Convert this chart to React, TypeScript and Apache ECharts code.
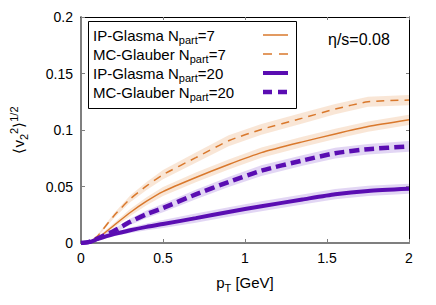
import React, { useEffect, useRef } from 'react';
import * as echarts from 'echarts';

// transverse momentum grid (GeV)
const pT = [0, 0.05, 0.1, 0.2, 0.3, 0.4, 0.5, 0.7, 0.9, 1.1, 1.35, 1.55, 1.75, 2.0];

// <v2^2>^{1/2} values
const ipGlasma7 = [0, 0.0005, 0.004, 0.0155, 0.027, 0.037, 0.0455, 0.058, 0.0695, 0.08, 0.0895, 0.0965, 0.103, 0.109];
const mcGlauber7 = [0, 0.001, 0.006, 0.024, 0.039, 0.0505, 0.0605, 0.0755, 0.0905, 0.1005, 0.1105, 0.1185, 0.125, 0.1265];
const ipGlasma20 = [0, 0.0008, 0.0034, 0.0078, 0.0113, 0.0143, 0.0168, 0.022, 0.0275, 0.0325, 0.0385, 0.0432, 0.0461, 0.048];
const mcGlauber20 = [0, 0.001, 0.004, 0.0107, 0.0187, 0.0255, 0.031, 0.043, 0.054, 0.064, 0.073, 0.0795, 0.083, 0.0855];

// statistical uncertainty half-widths
const ipGlasma7Err = [0, 0.0004, 0.001, 0.002, 0.003, 0.0035, 0.004, 0.0043, 0.0045, 0.0045, 0.0045, 0.0045, 0.0045, 0.0045];
const mcGlauber7Err = [0, 0.0004, 0.001, 0.002, 0.003, 0.0035, 0.004, 0.0045, 0.0048, 0.0048, 0.0047, 0.0046, 0.0045, 0.0045];
const ipGlasma20Err = [0, 0.0004, 0.001, 0.0018, 0.0025, 0.003, 0.0035, 0.004, 0.0042, 0.0044, 0.0045, 0.0045, 0.0045, 0.0045];
const mcGlauber20Err = [0, 0.0004, 0.001, 0.002, 0.0028, 0.0033, 0.0038, 0.0042, 0.0045, 0.0047, 0.0047, 0.0047, 0.0047, 0.0047];

// axis ticks
const xTickLabels = ['0', '0.5', '1', '1.5', '2'];
const yTickLabels = ['0', '0.05', '0.1', '0.15', '0.2'];

const legendNames = ['IP-Glasma N_part=7', 'MC-Glauber N_part=7', 'IP-Glasma N_part=20', 'MC-Glauber N_part=20'];
const legendRich = [
  '{m|IP-Glasma N}{sub|part}{m|=7}',
  '{m|MC-Glauber N}{sub|part}{m|=7}',
  '{m|IP-Glasma N}{sub|part}{m|=20}',
  '{m|MC-Glauber N}{sub|part}{m|=20}',
];

const FONT = '"Liberation Sans", Arial, Helvetica, sans-serif';
const ORANGE = '#d9782c';
const PURPLE = '#5a0db2';
const ORANGE_BAND = 'rgba(232,150,85,0.24)';
const PURPLE_BAND = 'rgba(140,90,210,0.25)';

const rich = {
  m: { fontSize: 15, fontFamily: FONT, verticalAlign: 'top', padding: [4, 0, 0, 0], color: '#000', fill: '#000' },
  sub: { fontSize: 11, fontFamily: FONT, verticalAlign: 'top', padding: [11, 0, 0, 0], color: '#000', fill: '#000' },
  sup: { fontSize: 11, fontFamily: FONT, verticalAlign: 'top', padding: [1, 0, 0, 0], color: '#000', fill: '#000' },
};

function bandSeries(id: string, vals: number[], errs: number[], color: string) {
  return {
    type: 'custom',
    name: id,
    coordinateSystem: 'cartesian2d',
    xAxisIndex: 0,
    yAxisIndex: 0,
    data: [[0, 0]],
    silent: true,
    z: 1,
    renderItem: (_params: any, api: any) => {
      const upper = pT.map((x, i) => api.coord([x, vals[i] + errs[i]]));
      const lower = pT.map((x, i) => api.coord([x, Math.max(0, vals[i] - errs[i])])).reverse();
      return {
        type: 'polygon',
        shape: { points: upper.concat(lower) },
        style: { fill: color, stroke: 'none' },
      };
    },
  };
}

function lineSeries(name: string, vals: number[], color: string, width: number, dash: any) {
  return {
    type: 'line',
    name,
    data: pT.map((x, i) => [x, vals[i]]),
    symbol: 'none',
    smooth: 0.2,
    lineStyle: { color, width, type: dash, cap: 'butt' },
    z: 3,
  };
}

export default function App() {
  const ref = useRef<HTMLDivElement>(null);
  useEffect(() => {
    const chart = echarts.init(ref.current!, null, { renderer: 'svg' });
    const legendX = 93;
    const rowY = [35, 54, 73, 92];
    const legendLines = [
      { color: ORANGE, width: 1.5, dash: null },
      { color: ORANGE, width: 1.5, dash: [9, 7] },
      { color: PURPLE, width: 4, dash: null },
      { color: PURPLE, width: 4.5, dash: [9, 6] },
    ];
    const graphic: any[] = [
      {
        type: 'rect',
        shape: { x: 88.5, y: 21.5, width: 208, height: 87 },
        style: { fill: 'none', stroke: '#000', lineWidth: 1 },
        z: 10,
      },
      {
        type: 'text',
        left: 328,
        top: 31,
        style: { text: 'η/s=0.08', fontSize: 16, fontFamily: FONT, fill: '#000' },
        z: 10,
      },
    ];
    legendRich.forEach((t, i) => {
      graphic.push({
        type: 'text',
        x: legendX,
        y: rowY[i] - 11.5,
        style: { text: t, rich, fontFamily: FONT, fontSize: 15, fill: '#000', verticalAlign: 'top', align: 'left' },
        z: 10,
      });
      const l = legendLines[i];
      graphic.push({
        type: 'line',
        shape: { x1: 263, y1: rowY[i], x2: 288, y2: rowY[i] },
        style: { stroke: l.color, lineWidth: l.width, lineDash: l.dash || undefined, lineCap: 'butt' },
        z: 10,
      });
    });

    const axisCommon = { min: 0, splitLine: { show: false } };
    chart.setOption({
      animation: false,
      backgroundColor: '#fff',
      grid: { left: 80, right: 27, top: 17, bottom: 62, containLabel: false },
      xAxis: [
        {
          type: 'value',
          ...axisCommon,
          max: 2,
          interval: 0.5,
          position: 'bottom',
          axisLine: { show: true, onZero: false, lineStyle: { color: '#7f7f7f', width: 2 } },
          axisTick: { show: true, inside: true, length: 4, lineStyle: { color: '#7f7f7f', width: 1 } },
          axisLabel: {
            show: true,
            margin: 8,
            fontSize: 14,
            fontFamily: FONT,
            color: '#000',
            formatter: (v: number) => xTickLabels[Math.round(v / 0.5)] ?? String(v),
          },
          name: '{m|p}{sub|T}{m| [GeV]}',
          nameLocation: 'middle',
          nameGap: 28,
          nameTextStyle: { rich, fontFamily: FONT, fontSize: 15, color: '#000' },
        },
        {
          type: 'value',
          ...axisCommon,
          max: 2,
          interval: 0.5,
          position: 'top',
          axisLine: { show: true, onZero: false, lineStyle: { color: '#000', width: 1 } },
          axisTick: { show: true, inside: true, length: 3, lineStyle: { color: '#7f7f7f', width: 1 } },
          axisLabel: { show: false },
        },
      ],
      yAxis: [
        {
          type: 'value',
          ...axisCommon,
          max: 0.2,
          interval: 0.05,
          position: 'left',
          axisLine: { show: true, onZero: false, lineStyle: { color: '#7f7f7f', width: 2 } },
          axisTick: { show: true, inside: true, length: 4, lineStyle: { color: '#7f7f7f', width: 1 } },
          axisLabel: {
            show: true,
            margin: 8,
            fontSize: 14,
            fontFamily: FONT,
            color: '#000',
            formatter: (v: number) => yTickLabels[Math.round(v / 0.05)] ?? String(v),
          },
          name: '{m|⟨v}{sub|2}{sup|2}{m|⟩}{sup|1/2}',
          nameLocation: 'middle',
          nameGap: 52,
          nameTextStyle: { rich, fontFamily: FONT, fontSize: 15, color: '#000' },
        },
        {
          type: 'value',
          ...axisCommon,
          max: 0.2,
          interval: 0.05,
          position: 'right',
          axisLine: { show: true, onZero: false, lineStyle: { color: '#000', width: 1 } },
          axisTick: { show: true, inside: true, length: 3, lineStyle: { color: '#7f7f7f', width: 1 } },
          axisLabel: { show: false },
        },
      ],
      series: [
        bandSeries('b1', mcGlauber7, mcGlauber7Err, ORANGE_BAND),
        bandSeries('b2', ipGlasma7, ipGlasma7Err, ORANGE_BAND),
        bandSeries('b3', mcGlauber20, mcGlauber20Err, PURPLE_BAND),
        bandSeries('b4', ipGlasma20, ipGlasma20Err, PURPLE_BAND),
        lineSeries(legendNames[0], ipGlasma7, ORANGE, 1.5, 'solid'),
        lineSeries(legendNames[1], mcGlauber7, ORANGE, 1.5, [8, 6]),
        lineSeries(legendNames[2], ipGlasma20, PURPLE, 4, 'solid'),
        lineSeries(legendNames[3], mcGlauber20, PURPLE, 4.5, [10, 5]),
      ],
      graphic,
    });
    return () => chart.dispose();
  }, []);
  return <div ref={ref} style={{ position: 'absolute', left: 0, top: 0, width: 436, height: 305 }} />;
}
